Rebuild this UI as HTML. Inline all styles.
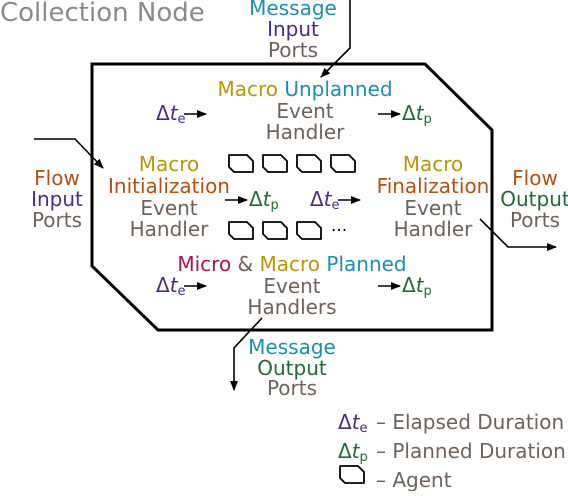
<!DOCTYPE html>
<html><head><meta charset="utf-8"><style>
html,body{margin:0;padding:0;background:#fff;}
svg text{font-family:"DejaVu Sans","Liberation Sans",sans-serif;font-size:20px;}
</style></head><body>
<svg width="568" height="491" viewBox="0 0 568 491" xmlns="http://www.w3.org/2000/svg">
<defs>
<marker id="ah" markerWidth="10" markerHeight="8" refX="9" refY="4" orient="auto" markerUnits="userSpaceOnUse">
<path d="M0,0 L10,4 L0,8 Z" fill="#000"/></marker>
<g id="ag"><path d="M1,1 H19 L25,7 V18 H6 L1,13 Z" fill="#fff" stroke="#000" stroke-width="1.8" stroke-linejoin="round"/></g>
</defs>
<text x="0" y="21" fill="#8a8a8a" style="font-size:26px">Collection Node</text>
<path d="M92,64 H425 L492,130 V330 H158 L92,266 Z" fill="none" stroke="#000" stroke-width="3"/>
<path d="M350,0 V48 L321,77" fill="none" stroke="#000" stroke-width="1.6" marker-end="url(#ah)"/>
<path d="M34,139 H75 L103,168" fill="none" stroke="#000" stroke-width="1.6" marker-end="url(#ah)"/>
<path d="M480,219 L508,247 H556" fill="none" stroke="#000" stroke-width="1.6" marker-end="url(#ah)"/>
<path d="M262,318 L234,348 V390" fill="none" stroke="#000" stroke-width="1.6" marker-end="url(#ah)"/>
<g stroke="#000" stroke-width="1.6" fill="none">
<path d="M184,114 H206" marker-end="url(#ah)"/>
<path d="M378,114 H400" marker-end="url(#ah)"/>
<path d="M225,200 H247" marker-end="url(#ah)"/>
<path d="M338,200 H360" marker-end="url(#ah)"/>
<path d="M184,286 H206" marker-end="url(#ah)"/>
<path d="M378,286 H400" marker-end="url(#ah)"/>
</g>
<use href="#ag" x="228" y="154"/><use href="#ag" x="262" y="154"/><use href="#ag" x="296" y="154"/><use href="#ag" x="330" y="154"/>
<use href="#ag" x="228" y="221"/><use href="#ag" x="262" y="221"/><use href="#ag" x="296" y="221"/>
<text x="331" y="236" fill="#000" style="font-size:17px">···</text>
<use href="#ag" x="339" y="465"/>
<g text-anchor="middle">
<text x="293" y="15" fill="#1a8fb0">Message</text>
<text x="293" y="36" fill="#4b2a8a">Input</text>
<text x="293" y="57" fill="#6f625a">Ports</text>
<text x="305" y="96"><tspan fill="#b8960c">Macro</tspan> <tspan fill="#1a8fb0">Unplanned</tspan></text>
<text x="305" y="118" fill="#6f625a">Event</text>
<text x="305" y="139" fill="#6f625a">Handler</text>
<text x="57" y="185" fill="#b5500f">Flow</text>
<text x="57" y="206" fill="#4b2a8a">Input</text>
<text x="57" y="227" fill="#6f625a">Ports</text>
<text x="169" y="171" fill="#b8960c">Macro</text>
<text x="169" y="193" fill="#b5500f">Initialization</text>
<text x="169" y="215" fill="#6f625a">Event</text>
<text x="169" y="236" fill="#6f625a">Handler</text>
<text x="433" y="171" fill="#b8960c">Macro</text>
<text x="433" y="193" fill="#b5500f">Finalization</text>
<text x="433" y="215" fill="#6f625a">Event</text>
<text x="433" y="236" fill="#6f625a">Handler</text>
<text x="535" y="185" fill="#b5500f">Flow</text>
<text x="535" y="206" fill="#1f6b34">Output</text>
<text x="535" y="227" fill="#6f625a">Ports</text>
<text x="292" y="271"><tspan fill="#b0124f">Micro</tspan> <tspan fill="#6f625a">&amp;</tspan> <tspan fill="#b8960c">Macro</tspan> <tspan fill="#1a8fb0">Planned</tspan></text>
<text x="292" y="293" fill="#6f625a">Event</text>
<text x="292" y="314" fill="#6f625a">Handlers</text>
<text x="292" y="354" fill="#1a8fb0">Message</text>
<text x="292" y="375" fill="#1f6b34">Output</text>
<text x="292" y="395" fill="#6f625a">Ports</text>
</g>
<g>
<text x="156" y="120" fill="#4b2a8a">Δ<tspan font-style="italic">t</tspan><tspan style="font-size:13px" dy="3">e</tspan></text>
<text x="402" y="120" fill="#1f6b34">Δ<tspan font-style="italic">t</tspan><tspan style="font-size:13px" dy="3">p</tspan></text>
<text x="249" y="206" fill="#1f6b34">Δ<tspan font-style="italic">t</tspan><tspan style="font-size:13px" dy="3">p</tspan></text>
<text x="310" y="206" fill="#4b2a8a">Δ<tspan font-style="italic">t</tspan><tspan style="font-size:13px" dy="3">e</tspan></text>
<text x="156" y="292" fill="#4b2a8a">Δ<tspan font-style="italic">t</tspan><tspan style="font-size:13px" dy="3">e</tspan></text>
<text x="402" y="292" fill="#1f6b34">Δ<tspan font-style="italic">t</tspan><tspan style="font-size:13px" dy="3">p</tspan></text>
<text x="338" y="429" fill="#4b2a8a">Δ<tspan font-style="italic">t</tspan><tspan style="font-size:13px" dy="3">e</tspan></text>
<text x="338" y="458" fill="#1f6b34">Δ<tspan font-style="italic">t</tspan><tspan style="font-size:13px" dy="3">p</tspan></text>
<text x="376" y="429" fill="#6f625a">– Elapsed Duration</text>
<text x="376" y="458" fill="#6f625a">– Planned Duration</text>
<text x="376" y="487" fill="#6f625a">– Agent</text>
</g>
</svg>
</body></html>
